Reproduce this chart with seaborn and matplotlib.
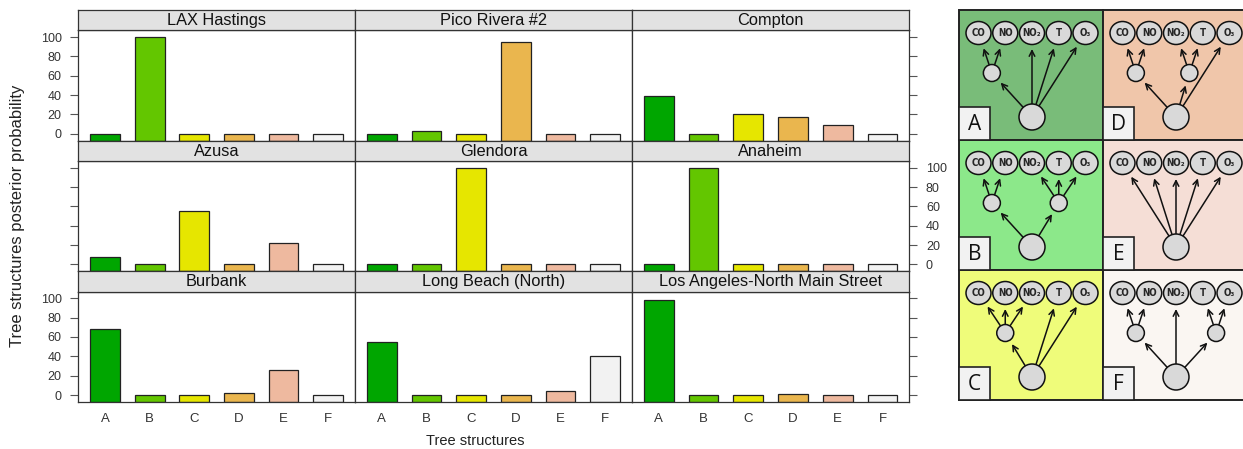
import matplotlib
matplotlib.use("Agg")
import numpy as np
import pandas as pd
import matplotlib.pyplot as plt
import seaborn as sns
from matplotlib.patches import Rectangle, Ellipse

# ---------------------------------------------------------------- data
structures = ["A", "B", "C", "D", "E", "F"]
stations = ["LAX Hastings", "Pico Rivera #2", "Compton",
            "Azusa", "Glendora", "Anaheim",
            "Burbank", "Long Beach (North)", "Los Angeles-North Main Street"]

lax_hastings = [0, 100, 0, 0, 0, 0]
pico_rivera = [0, 3, 0, 95, 0, 0]
compton = [39, 0, 20, 17, 9, 0]
azusa = [8, 0, 55, 0, 22, 0]
glendora = [0, 0, 100, 0, 0, 0]
anaheim = [0, 100, 0, 0, 0, 0]
burbank = [68, 0, 0, 2, 26, 0]
long_beach = [55, 0, 0, 0, 4, 40]
la_north_main = [98, 0, 0, 1, 0, 0]

station_values = [lax_hastings, pico_rivera, compton,
                  azusa, glendora, anaheim,
                  burbank, long_beach, la_north_main]

bar_colors = ["#00A600", "#63C600", "#E6E600", "#EAB64E", "#EEB99F", "#F2F2F2"]
y_ticks = [0, 20, 40, 60, 80, 100]

# tree structures: groups of observed variables sharing a latent parent
variables = ["CO", "NO", "NO\u2082", "T", "O\u2083"]
tree_groups = {
    "A": [[0, 1], [2], [3], [4]],
    "B": [[0, 1], [2, 3, 4]],
    "C": [[0, 1, 2], [3], [4]],
    "D": [[0, 1], [2, 3], [4]],
    "E": [[0], [1], [2], [3], [4]],
    "F": [[0, 1], [2], [3, 4]],
}
tree_bg = {"A": "#79BC79", "B": "#8CE88A", "C": "#EFFC7A",
           "D": "#F0C6AA", "E": "#F5DED6", "F": "#FAF6F2"}
tree_order = [["A", "D"], ["B", "E"], ["C", "F"]]

# ---------------------------------------------------------------- style
sns.set_style("white")
plt.rcParams["font.family"] = ["Liberation Sans", "DejaVu Sans"]

W, H = 1243, 449
fig = plt.figure(figsize=(W / 100, H / 100), dpi=100)


def frac_box(x0, y0, x1, y1):
    """Pixel box (top-left origin) -> figure fraction rect."""
    return [x0 / W, 1 - y1 / H, (x1 - x0) / W, (y1 - y0) / H]


col_edges = [78.3, 355.0, 632.0, 909.3]
row_pitch = 130.6
strip_h = 20.3
y_lo, y_hi = -7, 107
frame_col = "#333333"

for i, (name, vals) in enumerate(zip(stations, station_values)):
    r, c = divmod(i, 3)
    top = 10 + r * row_pitch
    ax = fig.add_axes(frac_box(col_edges[c], top + strip_h,
                               col_edges[c + 1], top + row_pitch))
    df = pd.DataFrame({"structure": structures, "prob": vals})
    sns.barplot(data=df, x="structure", y="prob", hue="structure",
                order=structures, hue_order=structures, palette=bar_colors,
                saturation=1, width=2 / 3, edgecolor="#222222", linewidth=0.9,
                legend=False, errorbar=None, ax=ax)
    # bars rise from the lower panel limit, as in a lattice barchart
    for p in ax.patches:
        h = p.get_height()
        p.set_y(y_lo)
        p.set_height(h - y_lo)
    ax.set_xlim(-0.6, 5.6)
    ax.set_ylim(y_lo, y_hi)
    ax.set_yticks(y_ticks)
    ax.set_xlabel("")
    ax.set_ylabel("")
    for s in ax.spines.values():
        s.set_color(frame_col)
        s.set_linewidth(0.9)
    ax.tick_params(axis="y", which="both", direction="out",
                   left=(c == 0), right=(c == 2),
                   labelleft=(c == 0 and r != 1),
                   labelright=(c == 2 and r == 1),
                   length=6, width=0.8, color="#555555",
                   labelsize=9, labelcolor="#333333", pad=6)
    ax.tick_params(axis="x", bottom=False, labelbottom=(r == 2),
                   length=0, labelsize=9.5, labelcolor="#333333", pad=8)

    # strip with the station name
    sax = fig.add_axes(frac_box(col_edges[c], top,
                                col_edges[c + 1], top + strip_h))
    sax.set_facecolor("#E2E2E2")
    sax.set_xticks([])
    sax.set_yticks([])
    for s in sax.spines.values():
        s.set_color(frame_col)
        s.set_linewidth(0.9)
    sax.text(0.5, 0.48, name, ha="center", va="center", fontsize=11.8,
             color="#111111", transform=sax.transAxes)

fig.text(475 / W, 1 - 441 / H, "Tree structures", ha="center", va="center",
         fontsize=10.5, color="#222222")
fig.text(18 / W, 1 - 216 / H, "Tree structures posterior probability",
         ha="center", va="center", rotation=90, fontsize=12, color="#222222")

# ---------------------------------------------------------------- tree diagrams
dax = fig.add_axes(frac_box(955, 0, W, H))
dax.set_xlim(955, W)
dax.set_ylim(H, 0)
dax.axis("off")

cell_w, cell_h = 144, 130
cell_x = [959, 1103]
cell_y = [10, 140, 270]
leaf_dx0, leaf_step, leaf_y = 19.5, 26.75, 23
latent_y, latent_r = 63, 8.5
root_x, root_y, root_r = 73, 107, 13
leaf_rx, leaf_ry = 12.5, 11.5
gap = 4.5


def arrow(ax, p, rp, q, rq_x, rq_y):
    """Arrow from the rim of node p to just short of node q."""
    d = np.array(q) - np.array(p)
    u = d / np.hypot(*d)
    start = np.array(p) + rp * u
    rq = 1 / np.hypot(u[0] / rq_x, u[1] / rq_y)
    end = np.array(q) - (rq + gap) * u
    ax.annotate("", xy=end, xytext=start,
                arrowprops=dict(arrowstyle="->", lw=1.1, color="#111111",
                                shrinkA=0, shrinkB=0, mutation_scale=10))


for ri, row in enumerate(tree_order):
    for ci, key in enumerate(row):
        x0, y0 = cell_x[ci], cell_y[ri]
        dax.add_patch(Rectangle((x0, y0), cell_w, cell_h, facecolor=tree_bg[key],
                                edgecolor="#222222", lw=1.4, zorder=1))
        leaves = [(x0 + leaf_dx0 + k * leaf_step, y0 + leaf_y)
                  for k in range(len(variables))]
        root = (x0 + root_x, y0 + root_y)
        for grp in tree_groups[key]:
            if len(grp) == 1:
                arrow(dax, root, root_r, leaves[grp[0]], leaf_rx, leaf_ry)
            else:
                lat = (np.mean([leaves[k][0] for k in grp]), y0 + latent_y)
                arrow(dax, root, root_r, lat, latent_r, latent_r)
                for k in grp:
                    arrow(dax, lat, latent_r, leaves[k], leaf_rx, leaf_ry)
                dax.add_patch(Ellipse(lat, 2 * latent_r, 2 * latent_r,
                                      facecolor="#D9D9D9", edgecolor="#111111",
                                      lw=1.1, zorder=3))
        for (lx, ly), v in zip(leaves, variables):
            dax.add_patch(Ellipse((lx, ly), 2 * leaf_rx, 2 * leaf_ry,
                                  facecolor="#D9D9D9", edgecolor="#111111",
                                  lw=1.1, zorder=3))
            dax.text(lx, ly + 0.5, v, ha="center", va="center", fontsize=7,
                     fontweight="bold", fontstretch="condensed",
                     family="DejaVu Sans", zorder=4)
        dax.add_patch(Ellipse(root, 2 * root_r, 2 * root_r,
                              facecolor="#D9D9D9", edgecolor="#111111",
                              lw=1.1, zorder=3))
        dax.add_patch(Rectangle((x0, y0 + cell_h - 33), 31, 33,
                                facecolor="#F2F2F2", edgecolor="#222222",
                                lw=1.2, zorder=5))
        dax.text(x0 + 15.5, y0 + cell_h - 16, key, ha="center", va="center",
                 fontsize=15, family="Open Sans", color="#111111", zorder=6)

fig.savefig("out.png", dpi=100)
